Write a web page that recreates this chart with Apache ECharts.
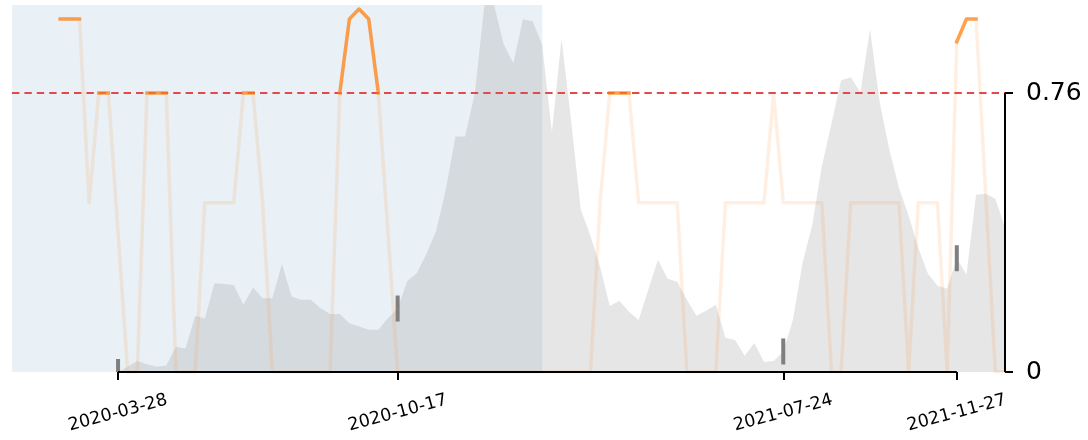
<!DOCTYPE html>
<html>
<head>
<meta charset="utf-8">
<script src="https://cdn.jsdelivr.net/npm/echarts@6/dist/echarts.min.js"></script>
<style>
  html, body { margin: 0; padding: 0; background: #fff; }
  #chart { width: 1088px; height: 440px; }
</style>
</head>
<body>
<div id="chart"></div>
<script>
// ---- data ----
const startDate = '2020-01-11';
const weekCount = 104;
const dates = [];
for (let k = 0; k < weekCount; k++) {
  dates.push(new Date(Date.parse(startDate + 'T00:00:00Z') + k * 7 * 86400000).toISOString().slice(0, 10));
}
const tickDates = ['2020-03-28', '2020-10-17', '2021-07-24', '2021-11-27'];
const markerDates = ['2020-03-28', '2020-10-17', '2021-07-24', '2021-11-27'];
const shadeRange = ['2020-01-11', '2021-01-30'];
const threshold = 0.76;
const yTickValues = [0, 0.76];

const grayValues = [
  0, 0, 0, 0, 0, 0, 0, 0, 0, 0, 0,
  0, 0.014, 0.03, 0.021, 0.014, 0.018, 0.069, 0.064, 0.153, 0.146,
  0.242, 0.240, 0.237, 0.183, 0.230, 0.201, 0.201, 0.294, 0.206, 0.197,
  0.197, 0.174, 0.158, 0.158, 0.133, 0.124, 0.115, 0.115, 0.147, 0.173,
  0.248, 0.27, 0.322, 0.385, 0.497, 0.642, 0.642, 0.759, 0.999, 1.0,
  0.893, 0.841, 0.961, 0.956, 0.89, 0.653, 0.909, 0.683, 0.442, 0.371,
  0.287, 0.18, 0.194, 0.164, 0.142, 0.224, 0.306, 0.254, 0.246, 0.197,
  0.153, 0.167, 0.183, 0.093, 0.087, 0.044, 0.079, 0.027, 0.03, 0.056,
  0.142, 0.298, 0.40, 0.56, 0.677, 0.795, 0.803, 0.762, 0.934, 0.735,
  0.606, 0.502, 0.426, 0.339, 0.268, 0.235, 0.227, 0.31, 0.265, 0.483,
  0.486, 0.472, 0.393
];

const orangeValues = [
  null, null, null, null, null,
  0.962, 0.962, 0.962, 0.461, 0.76,
  0.76, null, 0, 0, 0.76, 0.76, 0.76, 0, 0, 0,
  0.461, 0.461, 0.461, 0.461, 0.76, 0.76, 0.461, 0, 0, 0,
  0, 0, 0, 0, 0.76, 0.962, 0.989, 0.962, 0.76, null,
  0, 0, 0, 0, 0, 0, 0, 0, 0, 0,
  0, 0, 0, 0, 0, 0, 0, 0, 0, 0,
  0, 0.461, 0.76, 0.76, 0.76, 0.461, 0.461, 0.461, 0.461, 0.461,
  0, 0, 0, 0, 0.461, 0.461, 0.461, 0.461, 0.461, 0.76,
  0.461, 0.461, 0.461, 0.461, 0.461, 0, 0, 0.461, 0.461, 0.461,
  0.461, 0.461, 0.461, 0, 0.461, 0.461, 0.461, 0, 0.90, 0.962,
  0.962, null, 0, 0
];

// ---- derived ----
const above = v => v != null && v >= threshold;
const brightValues = orangeValues.map((v, i) =>
  above(v) && (above(orangeValues[i - 1]) || above(orangeValues[i + 1])) ? v : null);
const markerData = markerDates.map(d => [d, grayValues[dates.indexOf(d)]]);

const FONT = 'DejaVu Sans';
const chart = echarts.init(document.getElementById('chart'), null, { renderer: 'canvas' });

chart.setOption({
  animation: false,
  grid: { left: 12, right: 83, top: 5, bottom: 68, containLabel: false },
  xAxis: {
    type: 'category',
    data: dates,
    boundaryGap: false,
    axisLine: { show: false },
    axisTick: {
      show: true,
      interval: (i, v) => tickDates.includes(v),
      length: 8,
      lineStyle: { color: '#000', width: 2 }
    },
    axisLabel: {
      show: true,
      interval: (i, v) => tickDates.includes(v),
      rotate: 15,
      align: 'center',
      verticalAlign: 'middle',
      margin: 41,
      fontSize: 17.5,
      fontFamily: FONT,
      color: '#000'
    },
    splitLine: { show: false }
  },
  yAxis: {
    type: 'value',
    position: 'right',
    min: 0,
    max: 1,
    axisLine: { show: false },
    axisTick: {
      show: true,
      customValues: yTickValues,
      length: 8,
      lineStyle: { color: '#000', width: 2 }
    },
    axisLabel: {
      show: true,
      customValues: yTickValues,
      formatter: v => String(v),
      margin: 21,
      padding: [6, 0, 0, 0],
      fontSize: 25,
      fontFamily: FONT,
      color: '#000'
    },
    splitLine: { show: false }
  },
  series: [
    {
      name: 'volume',
      type: 'line',
      data: grayValues,
      symbol: 'none',
      z: 1,
      lineStyle: { width: 0, color: 'rgba(128,128,128,0.2)' },
      areaStyle: { color: 'rgba(128,128,128,0.2)', opacity: 1 },
      silent: true
    },
    {
      name: 'markers',
      type: 'custom',
      z: 2,
      data: markerData,
      encode: { x: 0, y: 1 },
      renderItem: function (params, api) {
        const p = api.coord([api.value(0), api.value(1)]);
        const w = 4, h = 26;
        const cs = params.coordSys;
        const shape = echarts.graphic.clipRectByRect(
          { x: p[0] - w / 2, y: p[1] - h / 2, width: w, height: h },
          { x: cs.x, y: cs.y, width: cs.width, height: cs.height }
        );
        if (!shape) return null;
        return { type: 'rect', shape: shape, style: { fill: '#7f7f7f' } };
      },
      silent: true
    },
    {
      name: 'shade',
      type: 'line',
      data: [],
      z: 3,
      silent: true,
      markArea: {
        silent: true,
        itemStyle: { color: 'rgba(70,130,180,0.12)' },
        data: [[{ xAxis: shadeRange[0] }, { xAxis: shadeRange[1] }]]
      }
    },
    {
      name: 'score',
      type: 'line',
      data: orangeValues,
      connectNulls: true,
      symbol: 'none',
      z: 4,
      lineStyle: { width: 3.5, color: 'rgba(255,127,14,0.12)', cap: 'square', join: 'round' },
      silent: true
    },
    {
      name: 'scoreAbove',
      type: 'line',
      data: brightValues,
      connectNulls: false,
      symbol: 'none',
      z: 5,
      lineStyle: { width: 3.5, color: 'rgba(255,127,14,0.7)', cap: 'square', join: 'round' },
      silent: true,
      markLine: {
        silent: true,
        symbol: ['none', 'none'],
        label: { show: false },
        lineStyle: { color: '#e04a4a', width: 2, type: [7.4, 5] },
        data: [{ yAxis: threshold }]
      }
    },
    {
      name: 'spines',
      type: 'line',
      data: [],
      z: 6,
      silent: true,
      markLine: {
        silent: true,
        symbol: ['none', 'none'],
        label: { show: false },
        lineStyle: { color: '#000', width: 2, type: 'solid' },
        data: [
          [{ coord: [tickDates[0], 0] }, { coord: [tickDates[tickDates.length - 1], 0] }],
          [{ coord: [dates[dates.length - 1], 0] }, { coord: [dates[dates.length - 1], threshold] }]
        ]
      }
    }
  ]
});
</script>
</body>
</html>
